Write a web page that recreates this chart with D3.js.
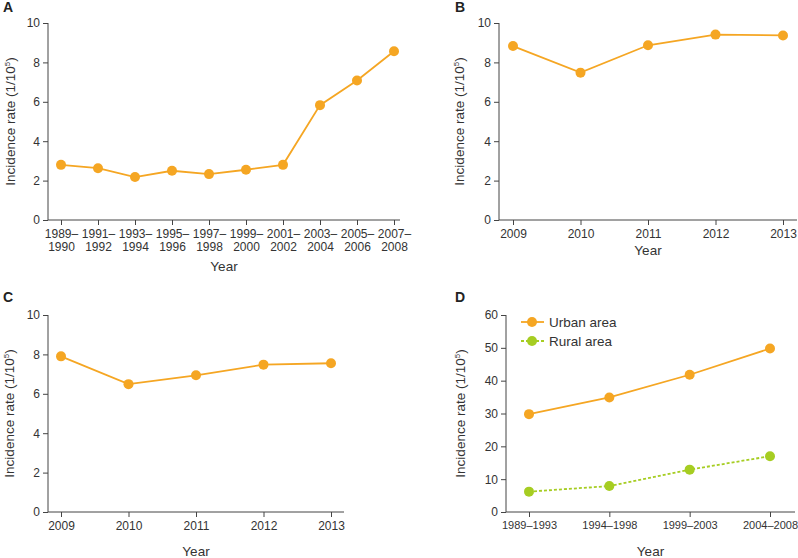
<!DOCTYPE html>
<html>
<head>
  <meta charset="UTF-8" />
  <title>Incidence rate panels</title>
  <script src="https://d3js.org/d3.v7.min.js"></script>
  <style>
    body { margin: 0; background: #fff; }
    text { font-family: "Liberation Sans", Arial, sans-serif; fill: #333; }
    .tick text { font-size: 12px; }
    .tick line { stroke: #444; }
    .axis-line { stroke: #444; stroke-width: 1; }
    .title { font-size: 13.5px; }
    .panel-label { font-size: 14px; font-weight: bold; fill: #222; }
  </style>
</head>
<body>
  <svg id="chart" width="798" height="558"></svg>
  <script>
    // data
    const periodsA = ["1989–1990", "1991–1992", "1993–1994", "1995–1996", "1997–1998",
                      "1999–2000", "2001–2002", "2003–2004", "2005–2006", "2007–2008"];
    const ratesA = [2.8, 2.63, 2.18, 2.5, 2.33, 2.55, 2.8, 5.83, 7.08, 8.57];

    const yearsB = ["2009", "2010", "2011", "2012", "2013"];
    const ratesB = [8.83, 7.48, 8.87, 9.41, 9.37];

    const yearsC = ["2009", "2010", "2011", "2012", "2013"];
    const ratesC = [7.9, 6.49, 6.94, 7.48, 7.55];

    const periodsD = ["1989–1993", "1994–1998", "1999–2003", "2004–2008"];
    const urbanD = [29.8, 34.9, 41.8, 49.8];
    const ruralD = [6.2, 7.9, 12.9, 17.0];

    const yTicks10 = [0, 2, 4, 6, 8, 10];
    const yTicks60 = [0, 10, 20, 30, 40, 50, 60];

    const ORANGE = "#f5a623";
    const GREEN = "#a6cd22";

    const svg = d3.select("#chart");

    // panel boxes: axis origin, point range, axis end
    const panels = [
      { label: "A", x0: 48, x1: 400, pts: [61, 394], top: 23, bottom: 220, cats: periodsA,
        max: 10, ticks: yTicks10, series: [{ values: ratesA, color: ORANGE }], twoLine: true,
        titleX: 10, yearY: 271, labelX: 3, labelY: 12 },
      { label: "B", x0: 499, x1: 797, pts: [513, 783], top: 23, bottom: 220, cats: yearsB,
        max: 10, ticks: yTicks10, series: [{ values: ratesB, color: ORANGE }],
        titleX: 459, yearY: 255, labelX: 455, labelY: 12 },
      { label: "C", x0: 48, x1: 344, pts: [61, 331], top: 315, bottom: 512, cats: yearsC,
        max: 10, ticks: yTicks10, series: [{ values: ratesC, color: ORANGE }],
        titleX: 9, yearY: 556, labelX: 3, labelY: 302 },
      { label: "D", x0: 506, x1: 795, pts: [529, 770], top: 315, bottom: 512, cats: periodsD,
        max: 60, ticks: yTicks60, xFont: 11,
        series: [{ values: urbanD, color: ORANGE, name: "Urban area" },
                 { values: ruralD, color: GREEN, name: "Rural area", dash: "3,2" }],
        titleX: 460, yearY: 556, labelX: 455, labelY: 302 }
    ];

    panels.forEach(p => {
      const g = svg.append("g");
      const x = d3.scalePoint().domain(p.cats).range(p.pts);
      const y = d3.scaleLinear().domain([0, p.max]).range([p.bottom, p.top]);

      // y axis
      const ya = g.append("g")
        .attr("transform", `translate(${p.x0},0)`)
        .call(d3.axisLeft(y).tickValues(p.ticks).tickSize(5).tickPadding(3).tickSizeOuter(0));
      ya.select(".domain").remove();
      g.append("line").attr("class", "axis-line")
        .attr("x1", p.x0).attr("x2", p.x0).attr("y1", p.top).attr("y2", p.bottom);

      // x axis
      const xa = g.append("g")
        .attr("transform", `translate(0,${p.bottom})`)
        .call(d3.axisBottom(x).tickSize(5).tickPadding(4).tickSizeOuter(0));
      xa.select(".domain").remove();
      g.append("line").attr("class", "axis-line")
        .attr("x1", p.x0).attr("x2", p.x1).attr("y1", p.bottom).attr("y2", p.bottom);
      if (p.xFont) xa.selectAll(".tick text").style("font-size", p.xFont + "px");

      if (p.twoLine) {
        xa.selectAll(".tick text").each(function(d) {
          const parts = d.split("–");
          const t = d3.select(this).text(null).attr("dy", null);
          t.append("tspan").attr("x", 0).attr("dy", "0.71em").text(parts[0] + "–");
          t.append("tspan").attr("x", 0).attr("dy", "1.15em").text(parts[1]);
        });
      }

      // titles
      g.append("text").attr("class", "panel-label")
        .attr("x", p.labelX).attr("y", p.labelY).text(p.label);
      g.append("text").attr("class", "title")
        .attr("x", (p.x0 + p.x1) / 2).attr("y", p.yearY)
        .attr("text-anchor", "middle").text("Year");
      const yt = g.append("text").attr("class", "title")
        .attr("transform", `translate(${p.titleX},${(p.top + p.bottom) / 2}) rotate(-90)`)
        .attr("text-anchor", "middle").attr("dy", "0.35em");
      yt.append("tspan").text("Incidence rate (1/10");
      yt.append("tspan").attr("dy", -5).attr("font-size", 8).text("5");
      yt.append("tspan").attr("dy", 5).text(")");

      // series
      const line = d3.line().x((d, i) => x(p.cats[i])).y(d => y(d));
      p.series.forEach(s => {
        g.append("path")
          .attr("d", line(s.values))
          .attr("fill", "none")
          .attr("stroke", s.color)
          .attr("stroke-width", 1.8)
          .attr("stroke-dasharray", s.dash || null);
        g.selectAll(null).data(s.values).join("circle")
          .attr("cx", (d, i) => x(p.cats[i]))
          .attr("cy", d => y(d))
          .attr("r", 5)
          .attr("fill", s.color);
      });

      // legend (panel D only)
      const named = p.series.filter(s => s.name);
      if (named.length) {
        const lg = g.append("g");
        named.forEach((s, i) => {
          const ly = 322 + i * 19;
          lg.append("line").attr("x1", 521).attr("x2", 544).attr("y1", ly).attr("y2", ly)
            .attr("stroke", s.color).attr("stroke-width", 1.8)
            .attr("stroke-dasharray", s.dash || null);
          lg.append("circle").attr("cx", 532).attr("cy", ly).attr("r", 5).attr("fill", s.color);
          lg.append("text").attr("class", "title").attr("x", 549).attr("y", ly)
            .attr("dy", "0.35em").text(s.name);
        });
      }
    });
  </script>
</body>
</html>
